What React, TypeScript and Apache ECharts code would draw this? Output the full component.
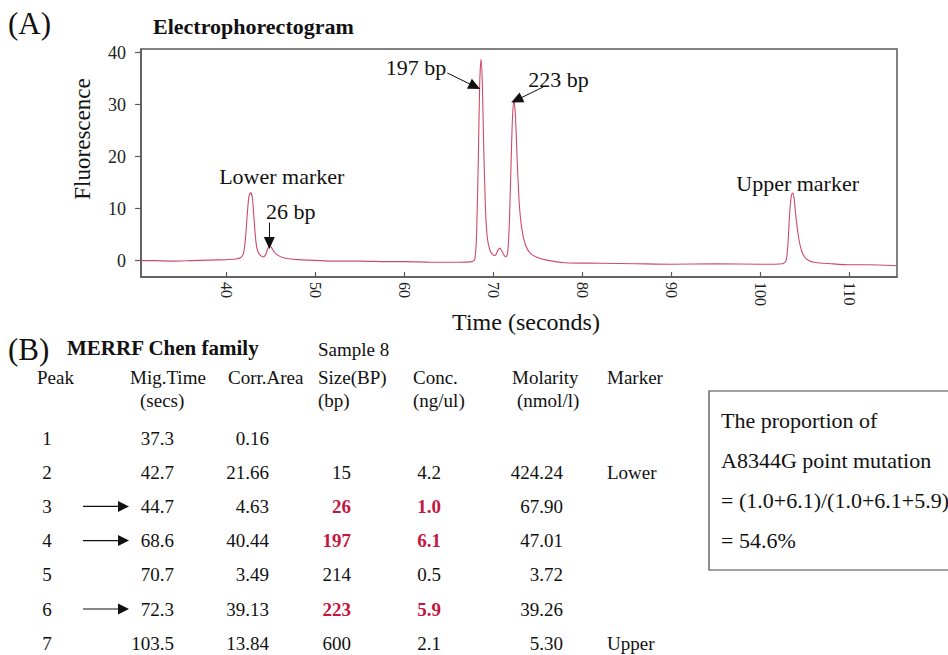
import React, { useEffect, useRef } from "react";
import * as echarts from "echarts";

// ---------- Data ----------
const timeSec = [
  30.4, 32, 34, 36, 38, 40, 41, 41.6, 41.9, 42.1, 42.3, 42.5, 42.7, 42.9, 43.1, 43.3, 43.5, 43.8, 44.1,
  44.4, 44.6, 44.8, 45.0, 45.3, 45.7, 46.3, 47.0, 48, 50, 52, 55, 58, 60, 63, 66, 67.6, 67.9, 68.1,
  68.3, 68.45, 68.6, 68.75, 68.9, 69.1, 69.3, 69.6, 69.9, 70.2, 70.5, 70.7, 70.9, 71.2, 71.4, 71.6,
  71.8, 72.0, 72.15, 72.3, 72.45, 72.65, 72.9, 73.2, 73.6, 74.1, 74.8, 76, 78, 82, 86, 90, 95, 100,
  102.5, 102.9, 103.1, 103.3, 103.5, 103.65, 103.8, 104.0, 104.3, 104.7, 105.2, 106, 108, 110, 112, 115.3,
];
const fluorescence = [
  0.0, 0.0, -0.1, 0.0, 0.1, 0.2, 0.3, 0.6, 1.5, 4, 8.5, 12.3, 13.1, 12, 7.5, 3.5, 1.8, 1.0, 0.7,
  1.2, 2.2, 2.8, 2.6, 1.8, 1.1, 0.6, 0.35, 0.2, 0.05, -0.1, -0.1, -0.2, -0.2, -0.3, -0.3, -0.2, 0.3, 5,
  20, 34, 38.7, 34, 22, 10, 4.5, 2, 1.2, 1.0, 2.0, 2.4, 2.0, 1.0, 0.7, 1.5,
  8, 20, 28, 30.7, 28.5, 20, 11, 6, 3, 1.5, 0.7, 0.1, -0.4, -0.5, -0.6, -0.7, -0.6, -0.7,
  -0.6, 0.0, 3, 9, 12.6, 13.0, 12, 8.5, 4.5, 1.6, 0.3, -0.3, -0.6, -0.8, -0.8, -1.0,
];
const xTicks = [40, 50, 60, 70, 80, 90, 100, 110];
const yTicks = [0, 10, 20, 30, 40];

// peak annotations: [label, x, y]
const peakLabels: [string, number, number][] = [
  ["Lower marker", 46.2, 16.1],
  ["26 bp", 47.2, 9.4],
  ["197 bp", 61.3, 37.1],
  ["223 bp", 77.3, 34.8],
  ["Upper marker", 104.2, 14.9],
];
// arrows: [x1, y1, x2, y2] in data units
const peakArrows: [number, number, number, number][] = [
  [44.8, 7.3, 44.8, 3.4],
  [64.8, 36.1, 67.9, 33.5],
  [75.6, 33.4, 72.6, 30.9],
];

// Table (B)
const tablePeak = [1, 2, 3, 4, 5, 6, 7];
const tableMigTime = ["37.3", "42.7", "44.7", "68.6", "70.7", "72.3", "103.5"];
const tableCorrArea = ["0.16", "21.66", "4.63", "40.44", "3.49", "39.13", "13.84"];
const tableSize = ["", "15", "26", "197", "214", "223", "600"];
const tableConc = ["", "4.2", "1.0", "6.1", "0.5", "5.9", "2.1"];
const tableMolarity = ["", "424.24", "67.90", "47.01", "3.72", "39.26", "5.30"];
const tableMarker = ["", "Lower", "", "", "", "", "Upper"];
const highlightedPeaks = [3, 4, 6];
const headerLine1 = ["Peak", "Mig.Time", "Corr.Area", "Size(BP)", "Conc.", "Molarity", "Marker"];
const headerLine2 = ["", "(secs)", "", "(bp)", "(ng/ul)", "(nmol/l)", ""];
const boxLines = [
  "The proportion of",
  "A8344G point mutation",
  "= (1.0+6.1)/(1.0+6.1+5.9)",
  "= 54.6%",
];

const FONT = "'Liberation Serif', 'Times New Roman', serif";
const RED = "#c3173f";

export default function App() {
  const ref = useRef<HTMLDivElement>(null);

  useEffect(() => {
    if (!ref.current) return;
    const chart = echarts.init(ref.current, undefined, { renderer: "svg" });

    const data = timeSec.map((t, i) => [t, fluorescence[i]]);

    const graphic: any[] = [];
    const txt = (
      text: string,
      x: number,
      y: number,
      opts: { size?: number; align?: string; bold?: boolean; color?: string; rotation?: number } = {}
    ) => {
      graphic.push({
        type: "text",
        x,
        y,
        rotation: opts.rotation || 0,
        silent: true,
        style: {
          text,
          fontSize: opts.size || 19,
          fontFamily: FONT,
          fontWeight: opts.bold ? "bold" : "normal",
          fill: opts.color || "#111",
          align: opts.align || "left",
          verticalAlign: "middle",
        },
      });
    };

    // Panel A texts
    txt("(A)", 8, 23, { size: 31 });
    txt("Electrophorectogram", 153, 26, { size: 22, bold: true });
    txt("Fluorescence", 82, 139, { size: 23, align: "center", rotation: Math.PI / 2 });
    txt("Time (seconds)", 526, 322, { size: 24, align: "center" });

    // Panel B
    txt("(B)", 8, 349, { size: 31 });
    txt("MERRF Chen family", 67, 348, { size: 21, bold: true });
    txt("Sample 8", 318, 349, { size: 19 });

    const headerX1 = [37, 130, 228, 318, 413, 512, 607];
    const headerX2 = [37, 140, 228, 318, 413, 517, 607];
    headerLine1.forEach((h, i) => h && txt(h, headerX1[i], 377));
    headerLine2.forEach((h, i) => h && txt(h, headerX2[i], 400));

    const rowY0 = 438;
    const rowStep = 34.2;
    tablePeak.forEach((p, i) => {
      const y = rowY0 + i * rowStep;
      const hl = highlightedPeaks.includes(p);
      txt(String(p), 47, y, { align: "center" });
      txt(tableMigTime[i], 174, y, { align: "right" });
      txt(tableCorrArea[i], 269, y, { align: "right" });
      if (tableSize[i])
        txt(tableSize[i], 351, y, { align: "right", bold: hl, color: hl ? RED : "#111" });
      if (tableConc[i])
        txt(tableConc[i], 441, y, { align: "right", bold: hl, color: hl ? RED : "#111" });
      if (tableMolarity[i]) txt(tableMolarity[i], 563, y, { align: "right" });
      if (tableMarker[i]) txt(tableMarker[i], 607, y);
      if (hl) {
        graphic.push({
          type: "line",
          silent: true,
          shape: { x1: 83, y1: y, x2: 120, y2: y },
          style: { stroke: "#111", lineWidth: 1.2 },
        });
        graphic.push({
          type: "polygon",
          silent: true,
          shape: { points: [[118, y - 5.5], [129, y], [118, y + 5.5]] },
          style: { fill: "#111" },
        });
      }
    });

    // Proportion box
    graphic.push({
      type: "rect",
      silent: true,
      shape: { x: 709, y: 391, width: 260, height: 179 },
      style: { fill: "none", stroke: "#444", lineWidth: 1.2 },
    });
    boxLines.forEach((l, i) => txt(l, 721, 420 + i * 40, { size: 22 }));

    const option: any = {
      animation: false,
      backgroundColor: "#fff",
      grid: {
        left: 141,
        top: 49,
        right: 51,
        bottom: 378,
        show: true,
        borderColor: "#5a5a5a",
        borderWidth: 1.5,
      },
      xAxis: {
        type: "value",
        min: 30.37,
        max: 115.37,
        axisLine: { show: true, onZero: false, lineStyle: { color: "#5a5a5a", width: 1.5 } },
        axisTick: {
          show: true,
          inside: true,
          length: 5,
          customValues: xTicks,
          lineStyle: { color: "#5a5a5a", width: 1.2 },
        },
        axisLabel: {
          customValues: xTicks,
          rotate: -90,
          margin: 5,
          fontSize: 16,
          fontFamily: FONT,
          color: "#222",
        },
        splitLine: { show: false },
      },
      yAxis: {
        type: "value",
        min: -3.15,
        max: 40.7,
        axisLine: { show: true, lineStyle: { color: "#5a5a5a", width: 1.5 } },
        axisTick: {
          show: true,
          length: 6,
          customValues: yTicks,
          lineStyle: { color: "#5a5a5a", width: 1.2 },
        },
        axisLabel: {
          customValues: yTicks,
          margin: 15,
          fontSize: 18,
          fontFamily: FONT,
          color: "#222",
        },
        splitLine: { show: false },
      },
      series: [
        {
          type: "line",
          data,
          symbol: "none",
          smooth: 0.25,
          lineStyle: { color: "#cf4a6a", width: 1.1 },
          markLine: {
            silent: true,
            symbol: ["none", "triangle"],
            symbolSize: [11, 12],
            label: { show: false },
            lineStyle: { color: "#111", width: 1, type: "solid" },
            data: peakArrows.map(([x1, y1, x2, y2]) => [
              { coord: [x1, y1] },
              { coord: [x2, y2] },
            ]),
          },
          markPoint: {
            silent: true,
            symbol: "circle",
            symbolSize: 0,
            data: peakLabels.map(([name, x, y]) => ({
              coord: [x, y],
              name,
              label: {
                show: true,
                position: "inside",
                formatter: name,
                fontSize: 22,
                fontFamily: FONT,
                color: "#111",
              },
            })),
          },
        },
      ],
      graphic,
    };

    chart.setOption(option);
    return () => chart.dispose();
  }, []);

  return (
    <div
      ref={ref}
      style={{ position: "fixed", left: 0, top: 0, width: 948, height: 655, background: "#fff" }}
    />
  );
}
